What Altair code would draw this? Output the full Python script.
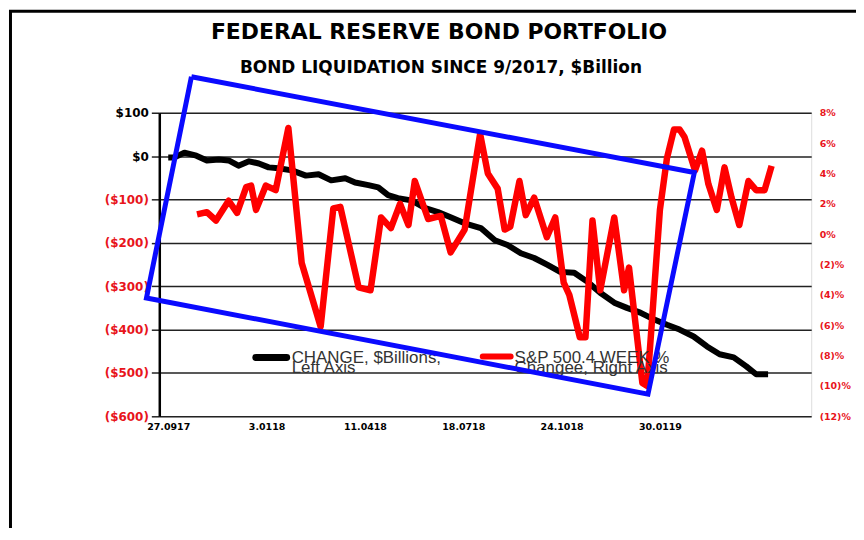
import altair as alt
import pandas as pd

# ---- data ----
title_text = "FEDERAL RESERVE BOND PORTFOLIO"
subtitle_text = "BOND LIQUIDATION SINCE 9/2017, $Billion"

x_tick_weeks = [0, 14, 28, 42, 56, 70]
x_tick_labels = ["27.0917", "3.0118", "11.0418", "18.0718", "24.1018", "30.0119"]

left_ticks = [100, 0, -100, -200, -300, -400, -500, -600]
right_ticks = [8, 6, 4, 2, 0, -2, -4, -6, -8, -10, -12]

bond_weeks = [0, 0.9, 2.3, 4.0, 5.5, 7.2, 8.6, 10.0, 11.5, 12.9,
              14.3, 15.7, 17.6, 19.6, 21.4, 23.2, 25.2, 26.6, 28.5, 29.9,
              31.3, 32.7, 34.6, 36.6, 38.4, 40.2, 42.2, 44.5, 46.5, 48.3,
              50.2, 52.1, 54.0, 55.8, 57.8, 59.7, 61.5, 63.5, 65.3, 67.2,
              69.2, 71.0, 72.8, 74.8, 76.7, 78.5, 80.5, 82.3, 83.7, 85.4]
bond_change = [-3, -3, 8, 1, -10, -8, -10, -22, -12, -17,
               -26, -28, -33, -45, -42, -56, -51, -61, -67, -72,
               -90, -97, -102, -120, -129, -141, -155, -166, -194, -205,
               -224, -235, -251, -267, -269, -290, -315, -338, -350, -361,
               -377, -389, -400, -416, -439, -457, -464, -485, -503, -503]

spx_weeks = [4.1, 5.5, 6.8, 8.6, 9.8, 11.1, 11.8, 12.5, 13.9, 15.3,
             17.1, 19.0, 21.7, 23.5, 24.5, 27.1, 28.8, 30.3, 31.7, 33.0,
             34.2, 35.1, 37.0, 38.8, 40.2, 42.2, 44.4, 45.5, 46.9, 47.9,
             48.7, 50.0, 50.9, 52.1, 53.9, 55.1, 56.3, 57.1, 58.6, 59.4,
             60.4, 61.5, 63.5, 64.9, 65.6, 67.5, 68.2, 70.0, 71.0, 72.0,
             72.8, 73.5, 75.0, 76.0, 76.9, 78.1, 79.2, 80.2, 81.3, 82.6,
             83.7, 84.9, 85.9]
spx_pct = [1.3, 1.45, 0.9, 2.2, 1.4, 3.1, 3.2, 1.6, 3.2, 2.9,
           7.0, -1.9, -6.1, 1.7, 1.8, -3.5, -3.7, 1.1, 0.4, 2.0,
           0.6, 3.5, 1.0, 1.2, -1.2, 0.3, 6.6, 4.0, 3.0, 0.3,
           0.5, 3.5, 1.25, 2.4, -0.2, 1.1, -3.2, -4.0, -6.8, -6.8,
           0.9, -3.7, 1.1, -3.7, -2.2, -9.8, -10.0, 1.6, 5.0, 6.9,
           6.9, 6.4, 4.2, 5.5, 3.3, 1.6, 4.4, 2.4, 0.6, 3.5,
           2.9, 2.9, 4.5]

# hand-drawn blue annotation box (corners in chart units)
box_weeks = [3.3, 74.9, 68.3, -3.1, 3.3]
box_values = [183, -38, -549, -327, 183]

assert len(bond_weeks) == len(bond_change)
assert len(spx_weeks) == len(spx_pct)

bond_df = pd.DataFrame({"week": bond_weeks, "change": bond_change})
spx_df = pd.DataFrame({"week": spx_weeks, "pct": spx_pct})
box_df = pd.DataFrame({"week": box_weeks, "value": box_values, "order": list(range(len(box_weeks)))})
one = pd.DataFrame({"a": [0]})

RED = "#ff0000"
LABEL_RED = "#e8141b"
x_domain = [-1.275, 91.54]
label_arr = "[" + ",".join("'" + s + "'" for s in x_tick_labels) + "]"

x_enc = alt.X(
    "week:Q",
    scale=alt.Scale(domain=x_domain, nice=False, zero=False),
    axis=alt.Axis(values=x_tick_weeks, labelExpr=label_arr + "[round(datum.value/14)]",
                  ticks=False, grid=False, domain=False, title=None,
                  labelFont="DejaVu Sans", labelFontSize=9.5, labelFontWeight="bold",
                  labelColor="#000", labelPadding=5, labelFlush=False, labelOverlap=False),
)

bond = alt.Chart(bond_df).mark_line(color="#000", strokeWidth=6, strokeJoin="round").encode(
    x=x_enc,
    y=alt.Y("change:Q",
            scale=alt.Scale(domain=[-600, 100], nice=False, zero=False),
            axis=alt.Axis(values=left_ticks, title=None,
                          labelExpr="datum.value < 0 ? '($' + abs(datum.value) + ')' : '$' + datum.value",
                          labelColor=alt.condition("datum.value < 0", alt.value(LABEL_RED), alt.value("#000")),
                          labelFont="DejaVu Sans", labelFontSize=12, labelFontWeight="bold",
                          labelPadding=3, tickSize=8, tickColor="#222", tickWidth=1.5,
                          grid=True, gridColor="#222", gridWidth=1.5,
                          domain=True, domainColor="#000", domainWidth=2.5)),
)

spx = alt.Chart(spx_df).mark_line(color=RED, strokeWidth=6.5, strokeJoin="round").encode(
    x="week:Q",
    y=alt.Y("pct:Q",
            scale=alt.Scale(domain=[-12, 8], nice=False, zero=False),
            axis=alt.Axis(orient="right", values=right_ticks, title=None,
                          labelExpr="datum.value < 0 ? '(' + abs(datum.value) + ')%' : datum.value + '%'",
                          labelColor=LABEL_RED, labelFont="DejaVu Sans", labelFontSize=9.5,
                          labelFontWeight="bold", labelPadding=8,
                          ticks=False, grid=False, domain=False)),
)

box = alt.Chart(box_df).mark_line(color="#0a0aff", strokeWidth=5, strokeJoin="miter").encode(
    x="week:Q",
    y=alt.Y("value:Q", scale=alt.Scale(domain=[-600, 100], nice=False, zero=False), axis=None),
    order="order:Q",
)

# titles (as text)
title_mark = alt.Chart(one).mark_text(align="center", baseline="alphabetic", font="DejaVu Sans",
                                      fontSize=22, fontWeight="bold", color="#000").encode(
    x=alt.value(281), y=alt.value(-74), text=alt.value(title_text))
subtitle_mark = alt.Chart(one).mark_text(align="center", baseline="alphabetic", font="DejaVu Sans",
                                         fontSize=17, fontWeight="bold", color="#000").encode(
    x=alt.value(283), y=alt.value(-40), text=alt.value(subtitle_text))

# legend (inside plot)
leg_black = alt.Chart(one).mark_rule(color="#000", strokeWidth=7, strokeCap="round").encode(
    x=alt.value(97), x2=alt.value(128), y=alt.value(246))
leg_red = alt.Chart(one).mark_rule(color=RED, strokeWidth=6, strokeCap="round").encode(
    x=alt.value(325), x2=alt.value(353), y=alt.value(245))
leg_txt1 = alt.Chart(one).mark_text(align="left", baseline="alphabetic", font="Liberation Sans",
                                    fontSize=17, lineHeight=10, color="#333", lineBreak="\n").encode(
    x=alt.value(133), y=alt.value(251), text=alt.value("CHANGE, $Billions,\nLeft Axis"))
leg_txt2 = alt.Chart(one).mark_text(align="left", baseline="alphabetic", font="Liberation Sans",
                                    fontSize=17, lineHeight=10, color="#333", lineBreak="\n").encode(
    x=alt.value(357), y=alt.value(251), text=alt.value("S&P 500.4 WEEK %\nChangee, Right Axis"))

# outer frame lines
frame_top = alt.Chart(one).mark_rule(color="#000", strokeWidth=3).encode(
    x=alt.value(-151), x2=alt.value(710), y=alt.value(-102))
frame_left = alt.Chart(one).mark_rule(color="#000", strokeWidth=3).encode(
    x=alt.value(-149.5), y=alt.value(-103), y2=alt.value(440))

chart = alt.layer(
    bond, spx, leg_black, leg_red, leg_txt1, leg_txt2, box,
    title_mark, subtitle_mark, frame_top, frame_left
).resolve_scale(y="independent").properties(
    width=655, height=305,
    autosize=alt.AutoSizeParams(type="none"),
    padding={"left": 152, "top": 104, "right": 45, "bottom": 111},
).configure_view(stroke="#000", strokeWidth=2).configure(background="#ffffff")

chart.save("out.html", embed_options={"renderer": "svg", "actions": False})
